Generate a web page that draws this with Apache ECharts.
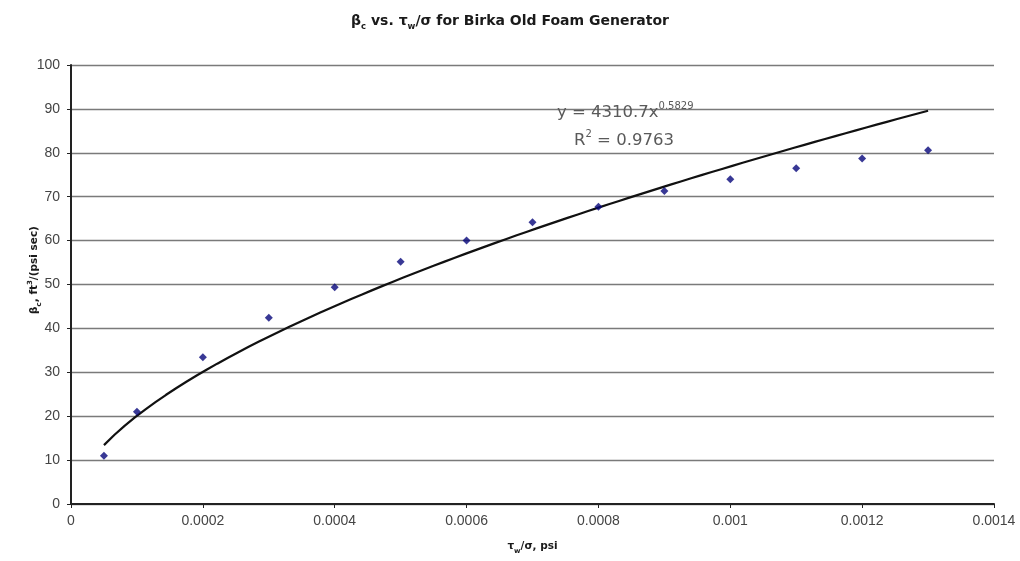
<!DOCTYPE html>
<html>
<head>
<meta charset="utf-8">
<title>Birka Old Foam Generator</title>
<script src="https://cdn.jsdelivr.net/npm/echarts@6/dist/echarts.min.js"></script>
<style>
  html, body { margin: 0; padding: 0; background: #fff; }
  #chart { width: 1020px; height: 561px; }
</style>
</head>
<body>
<div id="chart"></div>
<script>
// Measured points: shear stress ratio (psi) vs. beta_c
const stressRatio = [0.00005, 0.0001, 0.0002, 0.0003, 0.0004, 0.0005, 0.0006,
                     0.0007, 0.0008, 0.0009, 0.001, 0.0011, 0.0012, 0.0013];
const betaC = [11.0, 21.0, 33.4, 42.4, 49.4, 55.2, 60.0,
               64.2, 67.7, 71.3, 74.0, 76.5, 78.7, 80.6];

// Power-law trendline y = a * x^b as printed on the chart
const fitA = 4310.7;
const fitB = 0.5829;
const fitR2 = 0.9763;
const fitSteps = 80;

const yTicks = [0, 10, 20, 30, 40, 50, 60, 70, 80, 90, 100];
const xTickLabels = ['0', '0.0002', '0.0004', '0.0006', '0.0008', '0.001', '0.0012', '0.0014'];

const scatterData = stressRatio.map((x, i) => [x, betaC[i]]);
const x0 = stressRatio[0], x1 = stressRatio[stressRatio.length - 1];
const fitData = [];
for (let i = 0; i <= fitSteps; i++) {
  const x = x0 + (x1 - x0) * i / fitSteps;
  fitData.push([x, fitA * Math.pow(x, fitB)]);
}

const chart = echarts.init(document.getElementById('chart'), null, { renderer: 'canvas' });
const font = 'Liberation Sans, Arial, sans-serif';
const wideFont = 'DejaVu Sans, Verdana, sans-serif';

const nameRich = {
  t: { fontFamily: wideFont, fontSize: 10.5, fontWeight: 'bold', fill: '#1a1a1a', color: '#1a1a1a', lineHeight: 13, verticalAlign: 'bottom' },
  s: { fontFamily: wideFont, fontSize: 7, fontWeight: 'bold', fill: '#1a1a1a', color: '#1a1a1a', lineHeight: 13, verticalAlign: 'bottom', padding: [0, 0, -3, 0] },
  u: { fontFamily: wideFont, fontSize: 7, fontWeight: 'bold', fill: '#1a1a1a', color: '#1a1a1a', lineHeight: 13, verticalAlign: 'top' }
};

chart.setOption({
  backgroundColor: '#ffffff',
  animation: false,
  title: {
    text: '{t|β}{s|c}{t| vs. τ}{s|w}{t|/σ for Birka Old Foam Generator}',
    left: 'center',
    top: 6,
    textStyle: {
      rich: {
        t: { fontFamily: wideFont, fontSize: 14, fontWeight: 'bold', color: '#1a1a1a', lineHeight: 17, verticalAlign: 'bottom' },
        s: { fontFamily: wideFont, fontSize: 8.5, fontWeight: 'bold', color: '#1a1a1a', lineHeight: 17, verticalAlign: 'bottom', padding: [0, 0, -3, 0] }
      }
    }
  },
  grid: { left: 71, right: 26, top: 65, bottom: 57, containLabel: false },
  xAxis: {
    type: 'value',
    min: 0,
    max: 0.0014,
    interval: 0.0002,
    name: '{t|τ}{s|w}{t|/σ, psi}',
    nameLocation: 'middle',
    nameGap: 35,
    nameTextStyle: { rich: nameRich },
    axisLine: { show: true, lineStyle: { color: '#222', width: 2 } },
    axisTick: { show: true, inside: false, length: 4, lineStyle: { color: '#222', width: 1 } },
    axisLabel: {
      margin: 10,
      fontFamily: font,
      fontSize: 14,
      color: '#444',
      formatter: (v) => {
        const idx = Math.round(v / 0.0002);
        return xTickLabels[idx] !== undefined ? xTickLabels[idx] : '';
      }
    },
    splitLine: { show: false }
  },
  yAxis: {
    type: 'value',
    min: yTicks[0],
    max: yTicks[yTicks.length - 1],
    interval: 10,
    axisLine: { show: true, lineStyle: { color: '#222', width: 2 } },
    axisTick: { show: true, inside: false, length: 4, lineStyle: { color: '#222', width: 1 } },
    axisLabel: { margin: 11, fontFamily: font, fontSize: 14, color: '#444' },
    splitLine: { show: true, lineStyle: { color: '#7a7a7a', width: 1.3 } }
  },
  series: [
    {
      name: 'Power fit',
      type: 'line',
      data: fitData,
      showSymbol: false,
      symbol: 'none',
      smooth: false,
      lineStyle: { color: '#111', width: 2.2 },
      z: 2
    },
    {
      name: 'Measured',
      type: 'scatter',
      data: scatterData,
      symbol: 'diamond',
      symbolSize: 8,
      itemStyle: { color: '#06067a' },
      z: 3
    }
  ],
  graphic: [
    {
      // y-axis title, rotated to read bottom-to-top
      type: 'text',
      x: 33,
      y: 270,
      rotation: Math.PI / 2,
      style: {
        text: '{t|β}{s|c}{t|, ft}{u|3}{t|/(psi sec)}',
        align: 'center',
        verticalAlign: 'middle',
        rich: nameRich
      },
      z: 10
    },
    {
      type: 'text',
      left: 557,
      top: 101,
      style: {
        text: '{t|y = 4310.7x}{u|' + fitB + '}',
        rich: {
          t: { fontFamily: wideFont, fontSize: 16.5, fill: '#5a5a5a', lineHeight: 20, verticalAlign: 'bottom' },
          u: { fontFamily: wideFont, fontSize: 10, fill: '#5a5a5a', lineHeight: 20, verticalAlign: 'top' }
        }
      },
      z: 10
    },
    {
      type: 'text',
      left: 574,
      top: 129,
      style: {
        text: '{t|R}{u|2}{t| = ' + fitR2 + '}',
        rich: {
          t: { fontFamily: wideFont, fontSize: 16.5, fill: '#5a5a5a', lineHeight: 20, verticalAlign: 'bottom' },
          u: { fontFamily: wideFont, fontSize: 10, fill: '#5a5a5a', lineHeight: 20, verticalAlign: 'top' }
        }
      },
      z: 10
    }
  ]
});
</script>
</body>
</html>
